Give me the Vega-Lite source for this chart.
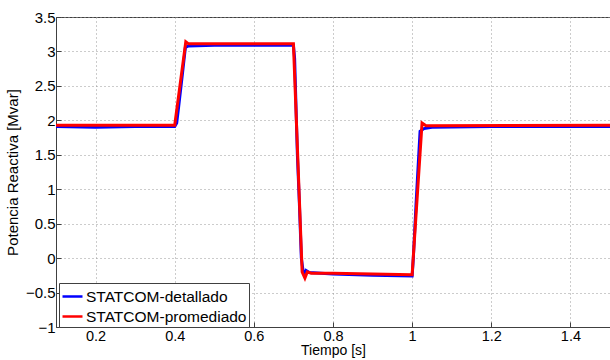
{
  "$schema": "https://vega.github.io/schema/vega-lite/v6.json",
  "width": 554,
  "height": 310,
  "autosize": {"type": "none"},
  "padding": {"left": 56, "top": 17, "right": 0, "bottom": 33},
  "background": "white",
  "config": {
    "font": "Liberation Sans",
    "view": {"stroke": "#404040", "strokeWidth": 1}
  },
  "data": {
    "values": [
      {"t": 0.1, "q": 1.91, "serie": "STATCOM-detallado"},
      {"t": 0.2, "q": 1.9, "serie": "STATCOM-detallado"},
      {"t": 0.3, "q": 1.91, "serie": "STATCOM-detallado"},
      {"t": 0.4, "q": 1.91, "serie": "STATCOM-detallado"},
      {"t": 0.405, "q": 1.96, "serie": "STATCOM-detallado"},
      {"t": 0.41, "q": 2.2, "serie": "STATCOM-detallado"},
      {"t": 0.42, "q": 2.7, "serie": "STATCOM-detallado"},
      {"t": 0.427, "q": 3.06, "serie": "STATCOM-detallado"},
      {"t": 0.435, "q": 3.08, "serie": "STATCOM-detallado"},
      {"t": 0.5, "q": 3.09, "serie": "STATCOM-detallado"},
      {"t": 0.6, "q": 3.09, "serie": "STATCOM-detallado"},
      {"t": 0.7, "q": 3.09, "serie": "STATCOM-detallado"},
      {"t": 0.703, "q": 2.9, "serie": "STATCOM-detallado"},
      {"t": 0.71, "q": 1.5, "serie": "STATCOM-detallado"},
      {"t": 0.715, "q": 0.8, "serie": "STATCOM-detallado"},
      {"t": 0.72, "q": 0.0, "serie": "STATCOM-detallado"},
      {"t": 0.724, "q": -0.17, "serie": "STATCOM-detallado"},
      {"t": 0.728, "q": -0.24, "serie": "STATCOM-detallado"},
      {"t": 0.732, "q": -0.18, "serie": "STATCOM-detallado"},
      {"t": 0.74, "q": -0.21, "serie": "STATCOM-detallado"},
      {"t": 0.8, "q": -0.23, "serie": "STATCOM-detallado"},
      {"t": 0.9, "q": -0.25, "serie": "STATCOM-detallado"},
      {"t": 1.0, "q": -0.26, "serie": "STATCOM-detallado"},
      {"t": 1.003, "q": 0.0, "serie": "STATCOM-detallado"},
      {"t": 1.01, "q": 0.8, "serie": "STATCOM-detallado"},
      {"t": 1.02, "q": 1.84, "serie": "STATCOM-detallado"},
      {"t": 1.03, "q": 1.88, "serie": "STATCOM-detallado"},
      {"t": 1.05, "q": 1.9, "serie": "STATCOM-detallado"},
      {"t": 1.2, "q": 1.91, "serie": "STATCOM-detallado"},
      {"t": 1.5, "q": 1.91, "serie": "STATCOM-detallado"},
      {"t": 0.1, "q": 1.93, "serie": "STATCOM-promediado"},
      {"t": 0.4, "q": 1.93, "serie": "STATCOM-promediado"},
      {"t": 0.428, "q": 3.14, "serie": "STATCOM-promediado"},
      {"t": 0.435, "q": 3.11, "serie": "STATCOM-promediado"},
      {"t": 0.7, "q": 3.11, "serie": "STATCOM-promediado"},
      {"t": 0.722, "q": -0.2, "serie": "STATCOM-promediado"},
      {"t": 0.729, "q": -0.29, "serie": "STATCOM-promediado"},
      {"t": 0.735, "q": -0.2, "serie": "STATCOM-promediado"},
      {"t": 0.745, "q": -0.22, "serie": "STATCOM-promediado"},
      {"t": 0.8, "q": -0.22, "serie": "STATCOM-promediado"},
      {"t": 0.9, "q": -0.23, "serie": "STATCOM-promediado"},
      {"t": 1.0, "q": -0.24, "serie": "STATCOM-promediado"},
      {"t": 1.025, "q": 1.96, "serie": "STATCOM-promediado"},
      {"t": 1.035, "q": 1.92, "serie": "STATCOM-promediado"},
      {"t": 1.5, "q": 1.93, "serie": "STATCOM-promediado"}
    ]
  },
  "mark": {"type": "line", "strokeWidth": 3, "clip": true},
  "encoding": {
    "x": {
      "field": "t", "type": "quantitative",
      "scale": {"domain": [0.1, 1.5], "nice": false, "zero": false},
      "axis": {
        "title": "Tiempo [s]", "values": [0.2, 0.4, 0.6, 0.8, 1, 1.2, 1.4], "format": "~f",
        "titleFont": "Liberation Sans", "titleFontSize": 14, "titleFontWeight": "normal", "titleColor": "black", "titlePadding": 1,
        "labelFont": "Liberation Sans", "labelFontSize": 14.5, "labelColor": "black", "labelPadding": 7,
        "domainColor": "#404040", "tickColor": "#404040", "tickSize": -5,
        "grid": true, "gridColor": "#999999", "gridDash": [1, 3], "gridWidth": 1
      }
    },
    "y": {
      "field": "q", "type": "quantitative",
      "scale": {"domain": [-1, 3.5], "nice": false, "zero": false},
      "axis": {
        "title": "Potencia Reactiva [Mvar]", "values": [-1, -0.5, 0, 0.5, 1, 1.5, 2, 2.5, 3, 3.5], "format": "~f",
        "titleFont": "Liberation Sans", "titleFontSize": 15, "titleFontWeight": "normal", "titleColor": "black", "titlePadding": 5,
        "labelFont": "Liberation Sans", "labelFontSize": 15, "labelColor": "black", "labelPadding": 6,
        "domainColor": "#404040", "tickColor": "#404040", "tickSize": -5,
        "grid": true, "gridColor": "#999999", "gridDash": [1, 3], "gridWidth": 1
      }
    },
    "color": {
      "field": "serie", "type": "nominal",
      "scale": {"domain": ["STATCOM-detallado", "STATCOM-promediado"], "range": ["#0000ff", "#ff0000"]},
      "legend": {
        "title": null, "orient": "none", "legendX": 3, "legendY": 266,
        "symbolType": "stroke", "symbolSize": 400, "symbolStrokeWidth": 2.5,
        "labelFont": "Liberation Sans", "labelFontSize": 15.5, "labelColor": "black", "labelLimit": 400,
        "labelOffset": 2, "rowPadding": 0,
        "strokeColor": "#404040", "fillColor": "white", "padding": 2
      }
    },
    "order": {"field": "t", "type": "quantitative"}
  }
}
